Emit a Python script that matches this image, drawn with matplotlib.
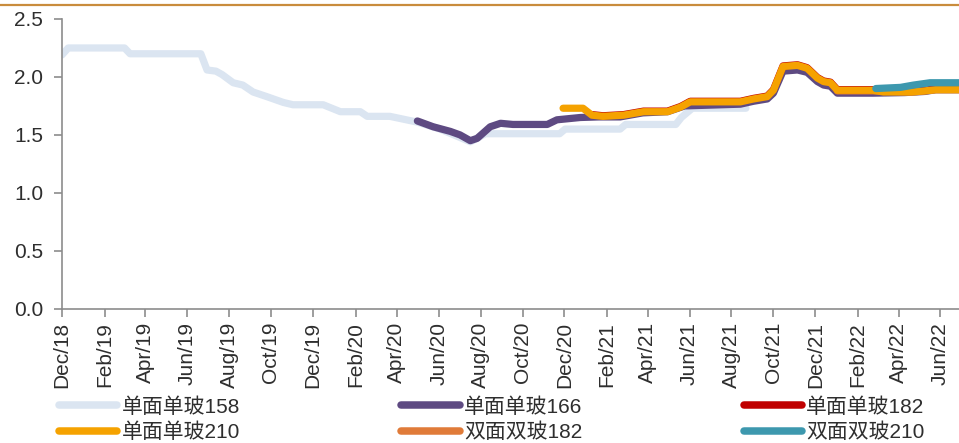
import matplotlib
matplotlib.use("Agg")
import matplotlib.pyplot as plt
import matplotlib.dates as mdates
from matplotlib.lines import Line2D

plt.rcParams['font.family'] = ['Liberation Sans', 'Noto Sans CJK SC', 'DejaVu Sans']

# ---- data: module price (元/W), breakpoints of each series ----
dates_158 = ['2018-12-01', '2018-12-10', '2019-03-02', '2019-03-10', '2019-06-21',
             '2019-06-30', '2019-07-13', '2019-07-22', '2019-08-07', '2019-08-21',
             '2019-09-05', '2019-09-25', '2019-10-19', '2019-11-02', '2019-12-16',
             '2020-01-10', '2020-02-08', '2020-02-18', '2020-03-22', '2020-05-01',
             '2020-06-03', '2020-07-17', '2020-08-08', '2020-11-24', '2020-12-02',
             '2021-02-20', '2021-02-28', '2021-05-12', '2021-05-20', '2021-06-05',
             '2021-08-22']
price_158 = [2.19, 2.25, 2.25, 2.20, 2.20,
             2.06, 2.05, 2.02, 1.95, 1.93,
             1.87, 1.83, 1.78, 1.76, 1.76,
             1.70, 1.70, 1.66, 1.66, 1.61,
             1.55, 1.44, 1.51, 1.51, 1.55,
             1.55, 1.59, 1.59, 1.65, 1.73,
             1.73]

dates_166 = ['2020-05-01', '2020-05-24', '2020-06-18', '2020-07-02', '2020-07-17',
             '2020-07-27', '2020-08-15', '2020-08-30', '2020-09-17', '2020-11-06',
             '2020-11-20', '2020-12-24', '2021-01-20', '2021-02-20', '2021-03-25',
             '2021-04-30', '2021-05-25', '2021-08-14', '2021-09-02', '2021-09-22',
             '2021-10-01', '2021-10-15', '2021-11-05', '2021-11-19', '2021-12-04',
             '2021-12-13', '2021-12-23', '2022-01-02', '2022-02-23', '2022-04-10',
             '2022-05-10', '2022-05-25', '2022-06-28']
price_166 = [1.62, 1.57, 1.53, 1.50, 1.45,
             1.47, 1.57, 1.60, 1.59, 1.59,
             1.63, 1.65, 1.655, 1.655, 1.69,
             1.70, 1.75, 1.765, 1.79, 1.81,
             1.86, 2.05, 2.06, 2.04, 1.96,
             1.93, 1.92, 1.86, 1.86, 1.865,
             1.875, 1.89, 1.89]

dates_210 = ['2020-11-29', '2020-12-28', '2021-01-10', '2021-01-26', '2021-02-25',
             '2021-03-26', '2021-04-30', '2021-05-19', '2021-06-02', '2021-08-14',
             '2021-09-02', '2021-09-22', '2021-10-01', '2021-10-15', '2021-11-05',
             '2021-11-19', '2021-12-04', '2021-12-13', '2021-12-23', '2022-01-02',
             '2022-02-23', '2022-03-10', '2022-04-20', '2022-05-10', '2022-05-25',
             '2022-06-28']
price_210 = [1.73, 1.73, 1.67, 1.66, 1.67,
             1.70, 1.70, 1.74, 1.785, 1.785,
             1.81, 1.83, 1.885, 2.09, 2.10,
             2.075, 1.99, 1.96, 1.95, 1.885,
             1.885, 1.87, 1.87, 1.88, 1.89,
             1.89]

dates_182 = ['2021-01-10', '2021-01-26', '2021-02-25', '2021-03-26', '2021-04-30',
             '2021-05-19', '2021-06-02', '2021-08-14', '2021-09-02', '2021-09-22',
             '2021-10-01', '2021-10-15', '2021-11-05', '2021-11-19', '2021-12-04',
             '2021-12-13', '2021-12-23', '2022-01-02', '2022-02-23', '2022-04-20',
             '2022-05-10', '2022-05-25', '2022-06-28']
price_182 = [1.675, 1.665, 1.675, 1.705, 1.705,
             1.745, 1.79, 1.79, 1.815, 1.835,
             1.89, 2.095, 2.105, 2.08, 1.995,
             1.965, 1.955, 1.89, 1.89, 1.875,
             1.885, 1.90, 1.90]

dates_bf182 = ['2022-01-02', '2022-02-23', '2022-04-20', '2022-05-10', '2022-05-25',
               '2022-06-28']
price_bf182 = [1.88, 1.88, 1.87, 1.88, 1.89, 1.89]

dates_bf210 = ['2022-02-27', '2022-04-04', '2022-04-23', '2022-05-17', '2022-06-28']
price_bf210 = [1.90, 1.91, 1.93, 1.95, 1.95]

tick_months = ['2018-12-01', '2019-02-01', '2019-04-01', '2019-06-01', '2019-08-01',
               '2019-10-01', '2019-12-01', '2020-02-01', '2020-04-01', '2020-06-01',
               '2020-08-01', '2020-10-01', '2020-12-01', '2021-02-01', '2021-04-01',
               '2021-06-01', '2021-08-01', '2021-10-01', '2021-12-01', '2022-02-01',
               '2022-04-01', '2022-06-01']
tick_labels = ['Dec/18', 'Feb/19', 'Apr/19', 'Jun/19', 'Aug/19', 'Oct/19', 'Dec/19',
               'Feb/20', 'Apr/20', 'Jun/20', 'Aug/20', 'Oct/20', 'Dec/20', 'Feb/21',
               'Apr/21', 'Jun/21', 'Aug/21', 'Oct/21', 'Dec/21', 'Feb/22', 'Apr/22',
               'Jun/22']
y_ticks = [0.0, 0.5, 1.0, 1.5, 2.0, 2.5]

# ---- series: label -> (dates, values, colour, zorder) ----
series = {
    '单面单玻158': (dates_158, price_158, '#dbe5f1', 2),
    '单面单玻166': (dates_166, price_166, '#5e4a82', 3),
    '单面单玻182': (dates_182, price_182, '#c00000', 5),
    '单面单玻210': (dates_210, price_210, '#f5a200', 6),
    '双面双玻182': (dates_bf182, price_bf182, '#e07b39', 4),
    '双面双玻210': (dates_bf210, price_bf210, '#3d98ae', 7),
}

W, H = 959, 443
fig = plt.figure(figsize=(W / 100, H / 100), dpi=100)
ax = fig.add_axes([62 / W, 1 - 308.7 / H, (W - 62) / W, (308.7 - 19) / H])

for name, (d, v, c, z) in series.items():
    x = mdates.datestr2num(d)
    ax.plot(x, v, color=c, lw=5.2, zorder=z, label=name,
            solid_capstyle='round', solid_joinstyle='round')

ax.set_xlim(mdates.datestr2num('2018-12-01'), mdates.datestr2num('2022-06-28'))
ax.set_ylim(0, 2.5)
ax.set_yticks(y_ticks)
ax.set_yticklabels([f'{t:.1f}' for t in y_ticks])
ax.set_xticks(mdates.datestr2num(tick_months))
ax.set_xticklabels(tick_labels, rotation=90, va='top', ha='center')

for s in ['top', 'right']:
    ax.spines[s].set_visible(False)
for s in ['left', 'bottom']:
    ax.spines[s].set_color('#8c8c8c')
    ax.spines[s].set_linewidth(1.2)
ax.tick_params(axis='both', colors='#8c8c8c', labelcolor='#2e2e2e',
               direction='out', length=5.5, width=1.2, labelsize=15)
ax.tick_params(axis='y', pad=8)
ax.tick_params(axis='x', pad=4)

# legend: three columns, two rows
order = ['单面单玻158', '单面单玻210', '单面单玻166', '双面双玻182', '单面单玻182', '双面双玻210']
handles = [Line2D([], [], color=series[n][2], lw=5.4, solid_capstyle='round') for n in order]
leg = fig.legend(handles, order, loc='upper left', ncol=3, frameon=False,
                 bbox_to_anchor=(59 / W, 1 - 397 / H), borderpad=0, borderaxespad=0,
                 handlelength=2.8, handletextpad=0.2, columnspacing=7.75,
                 labelspacing=0.3, fontsize=15)
for t in leg.get_texts():
    t.set_color('#2e2e2e')

# decorative rule across the top
fig.add_artist(Line2D([0, 1], [1 - 4.7 / H] * 2, color='#c98c3c', lw=1.6))

fig.savefig('out.png', dpi=100)
